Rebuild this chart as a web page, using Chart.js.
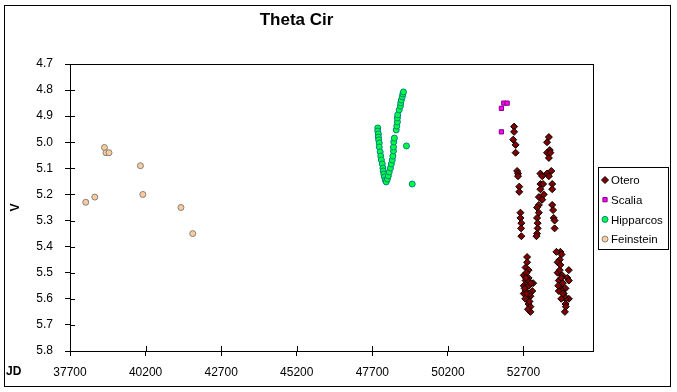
<!DOCTYPE html>
<html lang="en">
<head>
<meta charset="UTF-8">
<title>Theta Cir</title>
<script src="https://cdn.jsdelivr.net/npm/chart.js"></script>
<style>
  body { margin: 0; background: #fff; }
  canvas { display: block; }
</style>
</head>
<body>
<canvas id="grafico" width="677" height="392"></canvas>
<script>
// tick labels
const xTicks = [37700, 40200, 42700, 45200, 47700, 50200, 52700];
const yTicks = [4.7, 4.8, 4.9, 5.0, 5.1, 5.2, 5.3, 5.4, 5.5, 5.6, 5.7, 5.8];

// Otero
const oteroJD = [52390, 52390, 52360, 52440, 52440, 52490, 52520, 52520, 52560, 52560,
  52600, 52600, 52630, 52620, 52630,
  53540, 53480, 53570, 53480, 53540, 53590, 53620, 53480, 53260, 53320, 53540,
  53260, 53350, 53650, 53650, 53260, 53370, 53210, 53320, 53210, 53150, 53210,
  53650, 53680, 53700, 53730, 53730, 53150, 53170, 53170, 53150, 53130,
  52820, 52820, 52770, 52870, 52710, 52870, 52770, 53020, 52710, 52870, 52770, 52990,
  52710, 52930, 52820, 52870, 52930, 52930,
  52800, 52850, 52740, 52900, 52800, 52760, 52900, 52850, 52780, 52950,
  53920, 53790, 53960, 53900, 53830, 54200, 53830, 53980, 54150, 53870, 54200, 53920,
  54090, 53980, 53870, 54030, 54200, 54090, 54090, 54070,
  53900, 53950, 54000, 53850, 54050, 53950, 54100, 54000, 53920];
const oteroV = [4.94, 4.96, 4.99, 5.01, 5.04, 5.11, 5.12, 5.13, 5.17, 5.19,
  5.27, 5.29, 5.31, 5.33, 5.36,
  4.98, 5.00, 5.03, 5.04, 5.06, 5.04, 5.11, 5.12, 5.12, 5.13, 5.13,
  5.16, 5.16, 5.16, 5.18, 5.18, 5.20, 5.21, 5.22, 5.24, 5.25, 5.27,
  5.24, 5.26, 5.29, 5.30, 5.33, 5.29, 5.31, 5.33, 5.35, 5.36,
  5.44, 5.46, 5.48, 5.49, 5.51, 5.52, 5.53, 5.54, 5.55, 5.55, 5.57, 5.57,
  5.58, 5.59, 5.60, 5.62, 5.63, 5.65,
  5.50, 5.53, 5.56, 5.58, 5.58, 5.60, 5.61, 5.64, 5.52, 5.54,
  5.42, 5.42, 5.43, 5.45, 5.46, 5.49, 5.50, 5.51, 5.52, 5.53, 5.53, 5.55,
  5.56, 5.57, 5.57, 5.58, 5.60, 5.60, 5.62, 5.65,
  5.49, 5.52, 5.54, 5.55, 5.59, 5.60, 5.63, 5.58, 5.47];

// Scalia
const scaliaJD = [52050, 52160, 51970, 51970];
const scaliaV = [4.85, 4.85, 4.87, 4.96];

// Hipparcos
const hipJD = [47880, 47880, 47900, 47900, 47910, 47930, 47930, 47960, 47980, 48000,
  48030, 48050, 48060, 48080, 48100, 48130, 48160, 48200, 48230, 48260,
  48300, 48330, 48360, 48380, 48400, 48400, 48410, 48430, 48490, 48510,
  48530, 48530, 48540, 48590, 48630, 48640, 48660, 48690, 48710, 48730,
  48830, 49020];
const hipV = [4.945, 4.957, 4.968, 4.980, 4.991, 5.003, 5.018, 5.037, 5.053, 5.068,
  5.083, 5.099, 5.110, 5.122, 5.133, 5.145, 5.152, 5.141, 5.129, 5.114,
  5.099, 5.083, 5.068, 5.053, 5.033, 5.018, 4.999, 4.984, 4.953, 4.938,
  4.922, 4.907, 4.895, 4.876, 4.861, 4.849, 4.838, 4.826, 4.815, 4.807,
  5.014, 5.160];

// Feinstein
const feinJD = [38840, 38890, 38990, 40030, 40110, 38520, 38220, 41370, 41760];
const feinV = [5.02, 5.04, 5.04, 5.09, 5.20, 5.21, 5.23, 5.25, 5.35];

function pontos(jd, v) {
  return jd.map((x, i) => ({ x: x, y: v[i] }));
}

// moldura externa, caixa do plot, ticks cruzados, "JD" e legenda
const extras = {
  id: 'extras',
  afterDraw(chart) {
    const ctx = chart.ctx;
    const a = chart.chartArea;
    const xs = chart.scales.x, ys = chart.scales.y;
    ctx.save();
    ctx.strokeStyle = '#000';
    ctx.lineWidth = 1;
    ctx.strokeRect(4.5, 5.5, 666, 381);
    ctx.strokeRect(Math.round(a.left) + 0.5, Math.round(a.top) + 0.5,
      Math.round(a.right - a.left), Math.round(a.bottom - a.top));
    ctx.beginPath();
    xs.ticks.forEach(t => {
      const px = Math.round(xs.getPixelForValue(t.value)) + 0.5;
      ctx.moveTo(px, a.bottom);
      ctx.lineTo(px, a.bottom - 5);
    });
    ys.ticks.forEach(t => {
      const py = Math.round(ys.getPixelForValue(t.value)) + 0.5;
      ctx.moveTo(a.left, py);
      ctx.lineTo(a.left + 5, py);
    });
    ctx.stroke();

    ctx.fillStyle = '#000';
    ctx.font = 'bold 12px Arial';
    ctx.textBaseline = 'middle';
    ctx.textAlign = 'left';
    ctx.fillText('JD', 6, 372);

    // legenda
    ctx.strokeRect(598.5, 167.5, 70, 82);
    ctx.font = '11.5px Arial';
    chart.data.datasets.forEach((ds, i) => {
      const y = 180 + i * 19.7;
      ctx.fillStyle = ds.backgroundColor;
      ctx.strokeStyle = ds.borderColor;
      ctx.lineWidth = 1;
      Chart.helpers.drawPoint(ctx, {
        pointStyle: ds.pointStyle, radius: ds.pointRadius, rotation: 0, borderWidth: 1
      }, 605, y);
      ctx.fillStyle = '#000';
      ctx.fillText(ds.label, 611, y + 1);
    });
    ctx.restore();
  }
};

new Chart(document.getElementById('grafico'), {
  type: 'scatter',
  data: {
    datasets: [
      { label: 'Otero', data: pontos(oteroJD, oteroV), pointStyle: 'rectRot', pointRadius: 3.5,
        backgroundColor: '#800000', borderColor: '#000000', borderWidth: 1 },
      { label: 'Scalia', data: pontos(scaliaJD, scaliaV), pointStyle: 'rect', pointRadius: 3,
        backgroundColor: '#ff00ff', borderColor: '#800080', borderWidth: 1 },
      { label: 'Hipparcos', data: pontos(hipJD, hipV), pointStyle: 'circle', pointRadius: 3,
        backgroundColor: '#00ff40', borderColor: '#008080', borderWidth: 1 },
      { label: 'Feinstein', data: pontos(feinJD, feinV), pointStyle: 'circle', pointRadius: 3,
        backgroundColor: '#ffcc99', borderColor: '#808080', borderWidth: 1 }
    ]
  },
  options: {
    responsive: false,
    devicePixelRatio: 1,
    animation: false,
    layout: { padding: { left: 0, right: 84, top: 0, bottom: 0 } },
    plugins: {
      legend: { display: false },
      tooltip: { enabled: false },
      title: {
        display: true,
        text: 'Theta Cir',
        color: '#000',
        font: { family: 'Arial', size: 17, weight: 'bold' },
        padding: { top: 10, bottom: 33.6 }
      }
    },
    scales: {
      x: {
        type: 'linear',
        min: 37700,
        max: 55000,
        afterBuildTicks: s => { s.ticks = xTicks.map(v => ({ value: v })); },
        afterFit: s => { s.height = 41; },
        ticks: { color: '#000', font: { family: 'Arial', size: 12 }, padding: 9, maxRotation: 0,
          callback: v => String(v) },
        grid: { drawOnChartArea: false, drawTicks: true, tickLength: 5, color: '#000' },
        border: { color: '#000', width: 1 }
      },
      y: {
        type: 'linear',
        reverse: true,
        min: 4.7,
        max: 5.8,
        afterBuildTicks: s => { s.ticks = yTicks.map(v => ({ value: v })); },
        afterFit: s => { s.width = 70; },
        ticks: { color: '#000', font: { family: 'Arial', size: 12 }, padding: 12,
          callback: v => Number(v).toFixed(1) },
        grid: { drawOnChartArea: false, drawTicks: true, tickLength: 5, color: '#000' },
        border: { color: '#000', width: 1 },
        title: { display: true, text: 'V', color: '#000',
          font: { family: 'Arial', size: 12, weight: 'bold' }, padding: { top: 8, bottom: 0 } }
      }
    }
  },
  plugins: [extras]
});
</script>
</body>
</html>
